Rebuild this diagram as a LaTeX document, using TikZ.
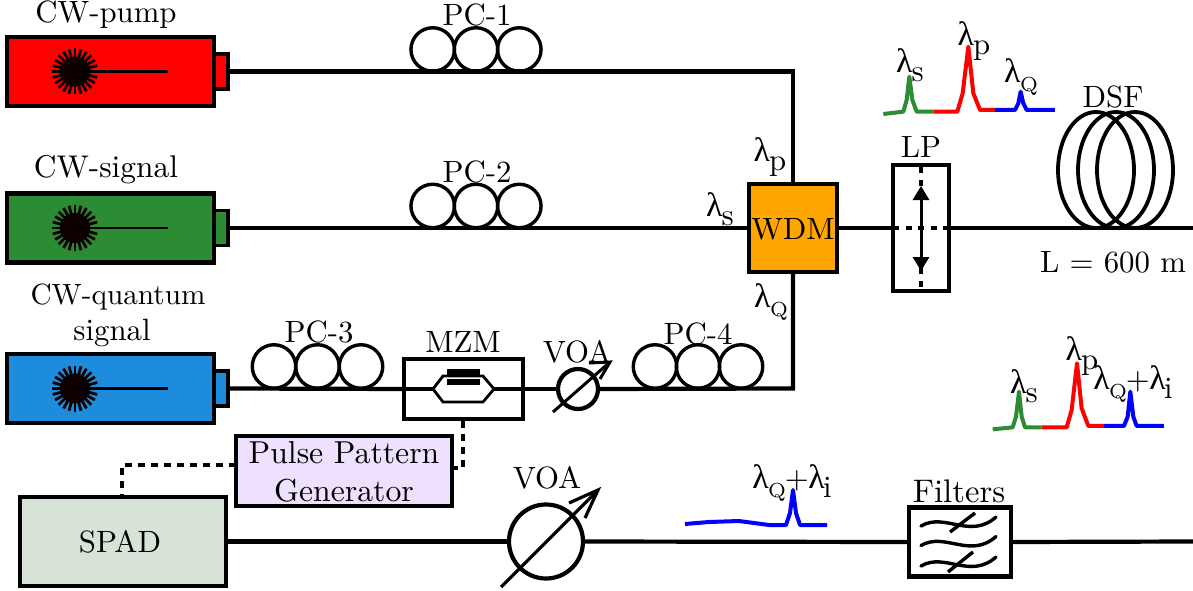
\documentclass[tikz,border=0pt]{standalone}
\usepackage{graphicx}
\usepackage{fontspec}
\newfontfamily\lamfont{Liberation Serif}
\usetikzlibrary{arrows.meta}
\definecolor{cgreen}{RGB}{44,140,52}
\definecolor{cblue}{RGB}{30,140,220}
\definecolor{corange}{RGB}{255,165,0}
\definecolor{clav}{RGB}{238,224,255}
\definecolor{cspad}{RGB}{214,227,214}
\definecolor{sgreen}{RGB}{44,140,52}
\newcommand{\lam}{{\lamfont\fontsize{11}{12}\selectfont λ}}
\newcommand{\lamb}[1]{\lam\kern-0.3pt\raisebox{-3pt}{#1}}
\newcommand{\lamQ}{\lam\kern-0.2pt\raisebox{-3pt}{\fontsize{6.6}{7}\selectfont Q}}
\newcommand{\lamQi}{\lamQ\kern-0.3pt+\kern-0.2pt\lam\kern-0.5pt\raisebox{-3pt}{i}}
\tikzset{
  x=1pt,y=-1pt,
  lbl/.style={inner sep=0pt,outer sep=0pt,scale=3.08,font=\fontsize{10}{11.8}\selectfont,text=black,align=center},
  box/.style={draw=black,line width=4.4pt,rectangle,inner sep=0pt,outer sep=0pt},
  ring/.style={draw=black,line width=3.4pt,circle,inner sep=0pt,outer sep=0pt,minimum size=#1},
  fiber/.style={draw=black,line width=4.2pt},
  thin fiber/.style={draw=black,line width=2.8pt},
  ctrl/.style={draw=black,line width=4.2pt,dash pattern=on 7pt off 6pt},
  spec/.style={line width=4pt,line join=round},
  dotin/.style={draw=black,line width=3.6pt,dash pattern=on 6pt off 6.5pt},
}
\newcommand{\laser}[4]{% name, y-centre, colour, height
  \node[box,fill=#3,minimum width=207pt,minimum height=#4] (#1) at (110.5,#2) {};
  \node[box,fill=#3,line width=3.4pt,anchor=west,minimum width=14pt,minimum height=35pt] (#1c) at (#1.east) {};
  \coordinate (#1s) at ([xshift=-35.5pt]#1.center);
  \foreach \a in {0,15,...,345}{\draw[line width=2.8pt,black!95!red] (#1s) -- ++(\a:23pt);}
  \fill[black!95!red] (#1s) circle (15pt);
  \draw[thin fiber] (#1s) -- ++(93pt,0);
}
\newcommand{\pcoil}[5]{% prefix, x1, x2, x3, y
  \node[ring=43.5pt] (#1a) at (#2,#5) {};
  \node[ring=43.5pt] (#1b) at (#3,#5) {};
  \node[ring=43.5pt] (#1c) at (#4,#5) {};
}
\begin{document}
\begin{tikzpicture}
\useasboundingbox (0,0) rectangle (1193,591);
% lasers
\laser{pump}{71.5}{red}{69pt}
\laser{sig}{228}{cgreen}{69pt}
\laser{quant}{388.5}{cblue}{69pt}
% WDM
\node[box,fill=corange,minimum width=88pt,minimum height=88pt] (wdm) at (793,228) {};
\node[lbl] (wdmt) at (793,229) {WDM};
% LP
\node[box,minimum width=56pt,minimum height=126pt] (lp) at (921,228) {};
% MZM
\node[box,minimum width=119pt,minimum height=60pt] (mzm) at (463.5,389) {};
% PPG and SPAD
\node[box,fill=clav,minimum width=216pt,minimum height=70pt] (ppg) at (344,471) {};
\node[lbl,scale=1.03] (ppgt) at (344,472) {Pulse Pattern\\Generator};
\node[box,fill=cspad,minimum width=206pt,minimum height=89pt] (spad) at (123,541.5) {};
\node[lbl] (spadt) at (120,542) {SPAD};
% Filters
\node[box,minimum width=102pt,minimum height=69pt] (filt) at (960,542) {};
% VOAs
\node[ring=40pt,line width=4.2pt] (voaa) at (578,389) {};
\node[ring=74pt,line width=4.2pt] (voab) at (546,541.5) {};
% end points
\coordinate (wdmtop) at (793,71.5);
\coordinate (wdmbot) at (793,388.5);
\coordinate (endtop) at (1193,228);
\coordinate (endbot) at (1193,541.5);
\coordinate (hexl) at (433,389);
\coordinate (hexr) at (494,389);
% fibres
\draw[fiber] (pumpc.east) -- (wdmtop) -- (wdm.north);
\draw[fiber] (sigc.east) -- (wdm.west);
\draw[fiber] (quantc.east) -- (mzm.west);
\draw[fiber] (mzm.west) -- (hexl);
\draw[fiber] (hexr) -- (voaa.west);
\draw[fiber] (voaa.east) -- (wdmbot) -- (wdm.south);
\draw[fiber] (wdm.east) -- (lp.west);
\draw[fiber] (lp.east) -- (endtop);
\draw[fiber] (spad.east) -- (voab.west);
\draw[fiber] (voab.east) -- (filt.west);
\draw[fiber] (filt.east) -- (endbot);
% polarisation controllers
\pcoil{pca}{432.7}{476}{519.3}{49.5}
\pcoil{pcb}{432.7}{476}{519.3}{206}
\pcoil{pcc}{274}{317.5}{361}{366.5}
\pcoil{pcd}{655}{698}{741}{366.5}
% MZM inner
\draw[line width=2.8pt,line join=miter] (hexl) -- (443,376) -- (483,376) -- (hexr) -- (483,402) -- (443,402) -- cycle;
\fill (447,369) rectangle (480,375);
\fill (447,379) rectangle (480,385);
% control lines
\coordinate (mzmb) at (463,421);
\coordinate (ppgr) at (463,468);
\draw[ctrl] (mzmb) -- (ppgr) -- (452,468);
\coordinate (spadtop) at (122,497);
\draw[ctrl] (ppg.west |- 0,465) -- (122,465) -- (spadtop);
% VOA arrows
\draw[line width=3pt] (553,412) -- (610,362);
\draw[line width=3pt] (589,363) -- (610,362) -- (600,379);
\draw[line width=3.2pt] (501,587) -- (598,490);
\draw[line width=3.2pt] (569,503) -- (598,490) -- (585,518);
% LP inner
\draw[dotin] (893,228) -- (949,228);
\draw[dotin] (921,167) -- (921,188);
\draw[dotin] (921,268) -- (921,289);
\draw[line width=3pt,{Triangle[width=16pt,length=14pt]}-{Triangle[width=16pt,length=14pt]}] (921,186) -- (921,271);
% DSF
\foreach \cx in {1096,1116,1135}{\draw[line width=3.8pt] (\cx,170) ellipse (38 and 58);}
% Filters inner
\foreach \yy in {526,545.5,566}{\draw[line width=3.4pt,line cap=round] (921,\yy) .. controls (945,{\yy-14}) and (970,{\yy+14}) .. (996,{\yy-9});}
\draw[line width=3.4pt] (950,532) -- (975,513);
\draw[line width=3.4pt] (948,572) -- (973,552);
% spectra top
\begin{scope}[shift={(880,10)},x=0.3333pt,y=-0.3333pt]
\draw[spec,draw=sgreen] (10,312) -- (70,305) -- (80,270) -- (88,200) -- (97,270) -- (110,305) -- (160,305);
\draw[spec,draw=red] (160,305) -- (232,305) -- (248,250) -- (265,110) -- (280,250) -- (300,300) -- (345,300);
\draw[spec,draw=blue] (345,300) -- (405,300) -- (415,280) -- (422,245) -- (430,280) -- (440,300) -- (525,300);
\end{scope}
% spectra middle
\begin{scope}[shift={(980,350)},x=0.3333pt,y=-0.3333pt]
\draw[spec,draw=sgreen] (38,238) -- (98,232) -- (108,200) -- (117,125) -- (125,200) -- (135,232) -- (185,232);
\draw[spec,draw=red] (185,232) -- (260,232) -- (275,180) -- (291,40) -- (305,175) -- (325,228) -- (372,228);
\draw[spec,draw=blue] (372,228) -- (432,228) -- (443,200) -- (451,125) -- (460,200) -- (470,228) -- (552,228);
\end{scope}
% spectrum bottom
\draw[spec,draw=blue] (685,524) -- (709,522) -- (739,521) -- (769,525) -- (786,525) -- (790,513) -- (793,490) -- (796,513) -- (800,525) -- (827,525);
% labels
\node[lbl] (l1) at (106,15) {CW-pump};
\node[lbl,scale=1.02] (l2) at (106,170) {CW-signal};
\node[lbl,scale=0.95] (l3) at (118,297) {CW-quantum};
\node[lbl] (l4) at (112,333) {signal};
\node[lbl] (l5) at (477,15) {PC-1};
\node[lbl] (l6) at (477,172) {PC-2};
\node[lbl] (l7) at (319,332) {PC-3};
\node[lbl] (l8) at (698,334) {PC-4};
\node[lbl] (l9) at (463,342) {MZM};
\node[lbl] (l10) at (577,352) {VOA};
\node[lbl] (l11) at (547,478) {VOA};
\node[lbl,scale=1.06] (l12) at (959,491) {Filters};
\node[lbl] (l13) at (1113,97) {DSF};
\node[lbl] (l14) at (921,147) {LP};
\node[lbl] (l15) at (1113,262) {L = 600 m};
\node[lbl] (l16) at (770,157) {\lamb{p}};
\node[lbl] (l17) at (720,209) {\lamb{s}};
\node[lbl] (l18) at (771,302) {\lamQ};
\node[lbl] (l19) at (910,65) {\lamb{s}};
\node[lbl] (l20) at (974,41) {\lamb{p}};
\node[lbl] (l21) at (1021,77) {\lamQ};
\node[lbl] (l22) at (1024,386) {\lamb{s}};
\node[lbl] (l23) at (1082,356) {\lamb{p}};
\node[lbl] (l24) at (1133,384) {\lamQi};
\node[lbl] (l25) at (792,483) {\lamQi};
\end{tikzpicture}
\end{document}
